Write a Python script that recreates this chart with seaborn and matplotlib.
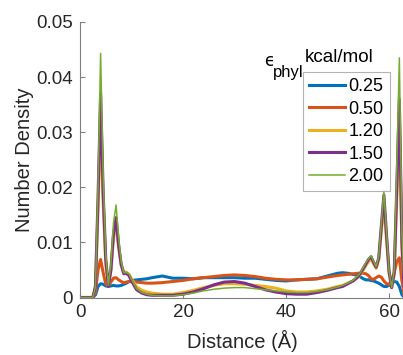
import numpy as np
import pandas as pd
import matplotlib
matplotlib.use("Agg")
import matplotlib.pyplot as plt
import seaborn as sns

# Sampling positions along the slab (Å): finer near the walls, coarser in the middle
distance = [0, 1, 2, 2.5, 3, 3.5, 4, 4.5, 5, 5.5, 6, 6.5, 7, 7.5, 8, 8.5, 9, 9.5, 10, 11, 12, 13, 14,
            16, 18, 20, 22, 24, 26, 28, 30, 32, 34, 36, 38, 40, 42, 44, 46, 48, 50,
            51, 52, 53, 54, 54.5, 55, 55.5, 56, 56.5, 57, 57.5, 58, 58.5, 59, 59.5, 60, 60.5,
            61, 61.5, 62, 62.5, 63]

eps_labels = ["0.25", "0.50", "1.20", "1.50", "2.00"]

dens_025 = [0, 0, 0, 0, 0.0005, 0.0020, 0.0025, 0.0024, 0.0021, 0.0020, 0.0021, 0.0022, 0.0021, 0.0021,
            0.0022, 0.0024, 0.0026, 0.0029, 0.0031, 0.0032, 0.0033, 0.0034, 0.0036,
            0.0039, 0.0035, 0.0035, 0.0034, 0.0036, 0.0036, 0.0036, 0.0036, 0.0035, 0.0035, 0.0033,
            0.0031, 0.0030, 0.0032, 0.0033, 0.0034, 0.0039, 0.0044,
            0.0045, 0.0044, 0.0042, 0.0040, 0.0037, 0.0034, 0.0032, 0.0032, 0.0031, 0.0030, 0.0028,
            0.0026, 0.0023, 0.0020, 0.0020, 0.0022, 0.0026, 0.0029, 0.0028, 0.0020, 0.0005, 0]

dens_050 = [0, 0, 0, 0, 0.0010, 0.0050, 0.0069, 0.0045, 0.0025, 0.0021, 0.0028, 0.0035, 0.0036, 0.0032,
            0.0029, 0.0027, 0.0028, 0.0029, 0.0029, 0.0028, 0.0027, 0.0026, 0.0026,
            0.0027, 0.0029, 0.0031, 0.0034, 0.0036, 0.0038, 0.0040, 0.0041, 0.0040, 0.0038, 0.0035,
            0.0033, 0.0032, 0.0032, 0.0033, 0.0034, 0.0037, 0.0040,
            0.0041, 0.0042, 0.0043, 0.0044, 0.0044, 0.0044, 0.0043, 0.0040, 0.0034, 0.0033, 0.0036,
            0.0039, 0.0037, 0.0030, 0.0025, 0.0024, 0.0030, 0.0045, 0.0065, 0.0072, 0.0030, 0]

dens_120 = [0, 0, 0, 0, 0.0020, 0.0160, 0.0330, 0.0170, 0.0060, 0.0020, 0.0050, 0.0110, 0.0130, 0.0090,
            0.0058, 0.0046, 0.0046, 0.0042, 0.0034, 0.0019, 0.0013, 0.0010, 0.0008,
            0.0006, 0.0006, 0.0009, 0.0013, 0.0018, 0.0022, 0.0025, 0.0025, 0.0024, 0.0022, 0.0020,
            0.0017, 0.0012, 0.0010, 0.0010, 0.0012, 0.0015, 0.0020,
            0.0022, 0.0026, 0.0030, 0.0037, 0.0043, 0.0050, 0.0058, 0.0065, 0.0070, 0.0061, 0.0053,
            0.0068, 0.0120, 0.0170, 0.0105, 0.0045, 0.0018, 0.0042, 0.0180, 0.0320, 0.0090, 0]

dens_150 = [0, 0, 0, 0, 0.0020, 0.0180, 0.0370, 0.0190, 0.0070, 0.0020, 0.0050, 0.0115, 0.0145, 0.0095,
            0.0060, 0.0043, 0.0044, 0.0040, 0.0030, 0.0014, 0.0008, 0.0005, 0.0004,
            0.0004, 0.0004, 0.0006, 0.0010, 0.0016, 0.0023, 0.0028, 0.0029, 0.0026, 0.0020, 0.0014,
            0.0010, 0.0007, 0.0006, 0.0006, 0.0009, 0.0013, 0.0018,
            0.0020, 0.0025, 0.0030, 0.0038, 0.0045, 0.0053, 0.0061, 0.0069, 0.0074, 0.0064, 0.0055,
            0.0072, 0.0130, 0.0186, 0.0115, 0.0048, 0.0018, 0.0045, 0.0200, 0.0360, 0.0100, 0]

dens_200 = [0, 0, 0, 0, 0.0020, 0.0200, 0.0443, 0.0220, 0.0080, 0.0022, 0.0060, 0.0135, 0.0168, 0.0110,
            0.0065, 0.0045, 0.0045, 0.0043, 0.0033, 0.0016, 0.0009, 0.0006, 0.0004,
            0.0003, 0.0003, 0.0005, 0.0008, 0.0012, 0.0015, 0.0017, 0.0018, 0.0018, 0.0016, 0.0014,
            0.0012, 0.0010, 0.0009, 0.0009, 0.0011, 0.0014, 0.0019,
            0.0022, 0.0026, 0.0031, 0.0040, 0.0046, 0.0055, 0.0063, 0.0070, 0.0076, 0.0066, 0.0056,
            0.0075, 0.0135, 0.0193, 0.0120, 0.0050, 0.0018, 0.0050, 0.0240, 0.0435, 0.0120, 0]

series = [dens_025, dens_050, dens_120, dens_150, dens_200]
colors = ["#0072BD", "#D95319", "#EDB120", "#7E2F8E", "#77AC30"]
widths = [2.2, 2.2, 2.2, 2.2, 1.1]

plt.rcParams["font.family"] = ["Liberation Sans", "DejaVu Sans"]
text_color = "#262626"
spine_color = "#7f7f7f"

fig = plt.figure(figsize=(4.03, 3.55), dpi=100)
ax = fig.add_axes([80 / 403, 57.5 / 355, 324.5 / 403, 275.5 / 355])

for vals, lab, col, lw in zip(series, eps_labels, colors, widths):
    df = pd.DataFrame({"Distance": distance, "Density": vals})
    sns.lineplot(data=df, x="Distance", y="Density", ax=ax, color=col,
                 linewidth=lw, label=lab, clip_on=True)

ax.set_xlim(0, 63)
ax.set_ylim(0, 0.05)
ax.set_xticks([0, 20, 40, 60])
ax.set_yticks([0, 0.01, 0.02, 0.03, 0.04, 0.05])
ax.set_yticklabels(["0", "0.01", "0.02", "0.03", "0.04", "0.05"])
ax.set_xlabel("Distance (Å)", fontsize=14.5, color=text_color, labelpad=6)
ax.set_ylabel("Number Density", fontsize=14.5, color=text_color, labelpad=1.5)

for side in ["top", "right"]:
    ax.spines[side].set_visible(False)
for side in ["left", "bottom"]:
    ax.spines[side].set_color(spine_color)
    ax.spines[side].set_linewidth(0.8)
ax.tick_params(direction="in", length=3.6, width=0.8, color=spine_color,
               labelsize=13.5, labelcolor=text_color, pad=5)

leg = ax.legend(loc="upper left", bbox_to_anchor=(303 / 403, 1 - 72 / 355),
                bbox_transform=fig.transFigure, borderaxespad=0, frameon=True,
                fancybox=False, fontsize=13, handlelength=2.0, handletextpad=0.15,
                labelspacing=0.3, borderpad=0.35)
leg.get_frame().set_edgecolor("#a0a0a0")
leg.get_frame().set_linewidth(0.8)
for t in leg.get_texts():
    t.set_color("black")

fig.text(305 / 403, 1 - 58 / 355, "kcal/mol", fontsize=13.5, color="black",
         ha="left", va="center")
fig.text(264 / 403, 1 - 61 / 355, "ϵ", fontsize=12, color="black",
         ha="left", va="center", family=["DejaVu Sans"])
fig.text(273 / 403, 1 - 72 / 355, "phyl", fontsize=12, color="black",
         ha="left", va="center")

fig.savefig("out.png", dpi=100)
